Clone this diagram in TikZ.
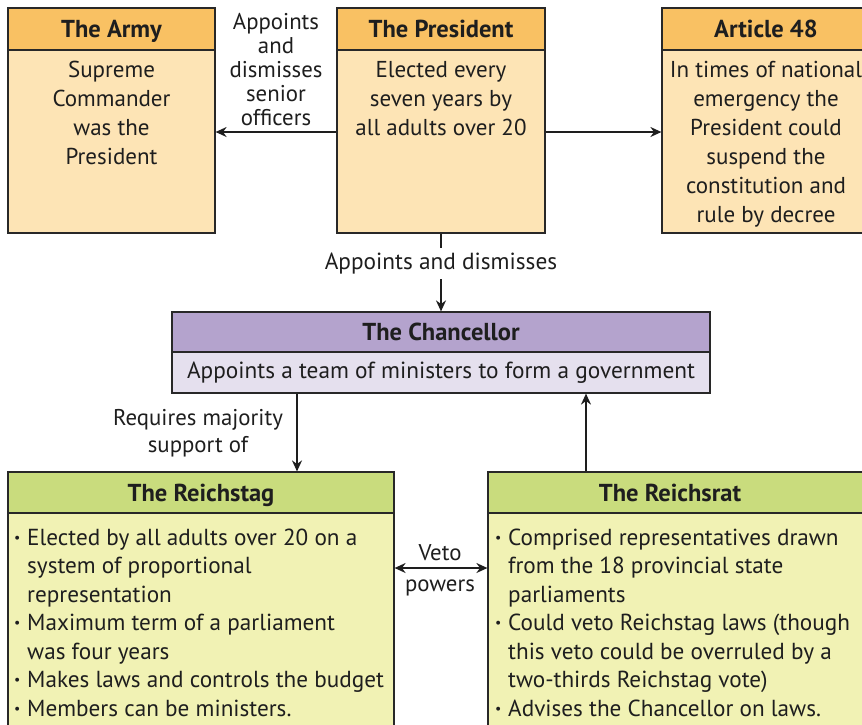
\documentclass[tikz,border=0pt]{standalone}
\usepackage{fontspec}
\setmainfont{PT Sans}
\usetikzlibrary{arrows.meta}
\definecolor{orgH}{RGB}{249,193,99}
\definecolor{orgB}{RGB}{253,228,181}
\definecolor{purH}{RGB}{180,163,205}
\definecolor{purB}{RGB}{229,224,238}
\definecolor{grnH}{RGB}{201,220,125}
\definecolor{grnB}{RGB}{241,242,180}
\definecolor{edge}{RGB}{40,40,40}
\definecolor{ink}{RGB}{30,30,30}
\newcommand{\bul}{\makebox[13pt][l]{\raisebox{0.12em}{\scalebox{0.6}{•}}}}
\newcommand{\ind}{\hspace*{13pt}}
\begin{document}
\begin{tikzpicture}[x=1pt,y=-1pt,
  hdr/.style={draw=edge, line width=1.2pt, inner sep=0pt, text=ink,
    text height=22pt, text depth=5pt,
    font=\bfseries\fontsize{24.5}{26}\selectfont},
  bodybox/.style={draw=edge, line width=1.2pt, inner sep=0pt},
  txt/.style={inner sep=0pt, align=center, text=ink,
    font=\fontsize{23}{29}\selectfont},
  bl/.style={inner sep=0pt, align=left, text=ink,
    font=\fontsize{23.2}{28.5}\selectfont},
  lbl/.style={inner sep=0pt, align=center, text=ink,
    font=\fontsize{22.8}{24}\selectfont},
  arr/.style={draw=ink, line width=1.6pt, -{Stealth[length=11pt,width=10pt]}},
  arrb/.style={draw=ink, line width=1.6pt, {Stealth[length=11pt,width=10pt]}-{Stealth[length=11pt,width=10pt]}},
  ln/.style={draw=ink, line width=1.6pt}
]
\useasboundingbox (0,0) rectangle (862,724);
\fill[white] (0,0) rectangle (862,724);

% The Army
\node[bodybox, fill=orgB, minimum width=207pt, minimum height=183pt] (armyb) at (111.5,141.5) {};
\node[hdr, fill=orgH, minimum width=207pt, minimum height=42pt] (armyh) at (111.5,29) {The Army};
\node[txt, anchor=north] (armyt) at (111.5,61) {Supreme\\Commander\\was the\\President};

% The President
\node[bodybox, fill=orgB, minimum width=208pt, minimum height=183pt] (presb) at (441,141.5) {};
\node[hdr, fill=orgH, minimum width=208pt, minimum height=42pt] (presh) at (441,29) {The President};
\node[txt, anchor=north] (prest) at (441,61) {Elected every\\seven years by\\all adults over 20};

% Article 48
\node[bodybox, fill=orgB, minimum width=208pt, minimum height=183pt] (artb) at (766,141.5) {};
\node[hdr, fill=orgH, minimum width=208pt, minimum height=42pt] (arth) at (766,29) {Article 48};
\node[txt, anchor=north] (artt) at (766,61) {In times of national\\emergency the\\President could\\suspend the\\constitution and\\rule by decree};

% President -> Army
\node[lbl] (lab0) at (276,70) {Appoints\\and\\dismisses\\senior\\officers};
\draw[arr] (presb.west |- 0,132) -- (armyb.east |- 0,132);
% President -> Article 48
\draw[arr] (presb.east |- 0,132) -- (artb.west |- 0,132);

% President -> Chancellor
\node[lbl, minimum height=31pt, font=\fontsize{23.3}{24}\selectfont] (lab1) at (441,263.5) {Appoints and dismisses};
\draw[ln] (presb.south) -- (lab1.north);

% The Chancellor
\node[hdr, fill=purH, minimum width=538pt, minimum height=40pt] (chanh) at (441,332) {The Chancellor};
\node[bodybox, fill=purB, minimum width=538pt, minimum height=41pt,
  font=\fontsize{23.3}{25}\selectfont, text=ink] (chanb) at (441,372.5) {Appoints a team of ministers to form a government};
\draw[arr] (lab1.south) -- (chanh.north);

% The Reichstag
\node[bodybox, fill=grnB, minimum width=386pt, minimum height=220pt] (rtagb) at (201,623) {};
\node[hdr, fill=grnH, minimum width=386pt, minimum height=41pt] (rtagh) at (201,492.5) {The Reichstag};
\node[bl, anchor=north west] (rtagt) at (14,528.5) {\bul Elected by all adults over 20 on a\\
\ind system of proportional\\
\ind representation\\
\bul Maximum term of a parliament\\
\ind was four years\\
\bul Makes laws and controls the budget\\
\bul Members can be ministers.};

% The Reichsrat
\node[bodybox, fill=grnB, minimum width=380pt, minimum height=220pt] (rratb) at (678,623) {};
\node[hdr, fill=grnH, minimum width=380pt, minimum height=41pt] (rrath) at (678,492.5) {};
\node[hdr, draw=none, inner sep=0pt] (rratl) at (670,492.5) {The Reichsrat};
\node[bl, anchor=north west] (rratt) at (495,528.5) {\bul Comprised representatives drawn\\
\ind from the 18 provincial state\\
\ind parliaments\\
\bul Could veto Reichstag laws (though\\
\ind this veto could be overruled by a\\
\ind two-thirds Reichstag vote)\\
\bul Advises the Chancellor on laws.};

% Chancellor -> Reichstag
\node[lbl, font=\fontsize{22.8}{27}\selectfont] (lab2) at (198,433.5) {Requires majority\\support of};
\draw[arr] (297,0 |- chanb.south) -- (297,0 |- rtagh.north);
% Reichsrat -> Chancellor
\draw[arr] (586,0 |- rrath.north) -- (586,0 |- chanb.south);

% Veto powers
\draw[arrb] (rtagb.east |- 0,568) -- (rratb.west |- 0,568);
\node[lbl] (lab3) at (440,553) {Veto};
\node[lbl] (lab4) at (440,588) {powers};
\end{tikzpicture}
\end{document}
